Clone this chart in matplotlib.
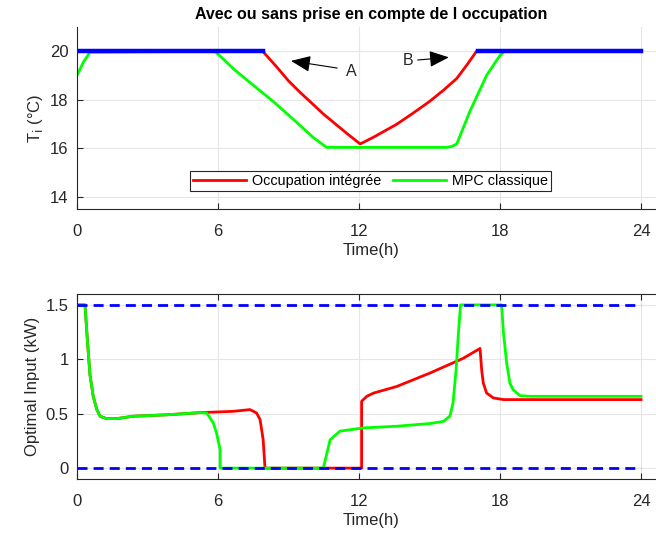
import matplotlib
matplotlib.use('Agg')
import matplotlib.pyplot as plt

plt.rcParams['font.family'] = ['Liberation Sans', 'DejaVu Sans']

# --- temperature (top) ---
t_red = [0, 7.9, 8.5, 9.0, 9.5, 10.0, 10.5, 11.0, 11.5, 12.05,
         12.6, 13.6, 14.3, 15.0, 15.6, 16.16, 16.6, 17.0, 24]
T_red = [20, 20, 19.35, 18.78, 18.3, 17.85, 17.4, 17.0, 16.6, 16.18,
         16.45, 16.99, 17.45, 17.93, 18.4, 18.88, 19.45, 20, 20]

t_green = [0, 0.27, 0.55, 5.87, 6.2, 6.65, 7.5, 8.35, 9.2, 10.06, 10.62, 15.73,
           15.95, 16.16, 16.72, 17.43, 18.0, 18.2, 24]
T_green = [19.0, 19.55, 19.96, 20, 19.7, 19.28, 18.6, 17.93, 17.2, 16.44, 16.04, 16.04,
           16.08, 16.18, 17.53, 19.01, 19.83, 20, 20]

t_comf1 = [0, 7.9]
t_comf2 = [17.05, 24]
T_comf = [20, 20]

# --- optimal input (bottom) ---
t_u_green = [0, 0.34, 0.43, 0.55, 0.69, 0.84, 0.98, 1.26, 1.69, 2.39, 3.81, 5.23,
             5.52, 5.80, 5.94, 6.09, 6.09, 10.48, 10.77, 11.19, 12.19, 13.6, 15.02,
             15.6, 15.87, 16.0, 16.13, 16.22, 16.32, 18.07, 18.14, 18.28, 18.42,
             18.56, 18.85, 19.28, 24]
u_green = [1.5, 1.5, 1.21, 0.86, 0.66, 0.54, 0.477, 0.455, 0.455, 0.477, 0.49, 0.51,
           0.507, 0.415, 0.32, 0.17, 0, 0, 0.26, 0.34, 0.37, 0.385, 0.41,
           0.43, 0.48, 0.6, 0.9, 1.21, 1.5, 1.5, 1.26, 0.97, 0.78,
           0.72, 0.666, 0.66, 0.66]

t_u_red = [0, 0.34, 0.43, 0.55, 0.69, 0.84, 0.98, 1.26, 1.69, 2.39, 3.81, 5.23,
           6.65, 7.36, 7.64, 7.79, 7.92, 8.0, 12.11, 12.11, 12.33, 12.62, 13.6,
           15.02, 16.44, 17.15, 17.22, 17.29, 17.43, 17.72, 18.14, 24]
u_red = [1.5, 1.5, 1.21, 0.86, 0.66, 0.54, 0.477, 0.455, 0.455, 0.477, 0.49, 0.51,
         0.522, 0.538, 0.507, 0.446, 0.263, 0, 0, 0.614, 0.66, 0.69, 0.75,
         0.874, 1.01, 1.10, 0.90, 0.78, 0.69, 0.645, 0.63, 0.63]

u_bounds = [0, 1.5]
t_bounds = [0, 24]

xticks = [0, 6, 12, 18, 24]
txt = '#262626'

fig = plt.figure(figsize=(6.56, 5.42), dpi=100)

ax1 = fig.add_axes([0.1174, 0.6144, 0.8956, 0.3358])
ax1.plot(t_red, T_red, color='#ff0000', lw=2, label='Occupation intégrée')
ax1.plot(t_green, T_green, color='#00ff00', lw=2, label='MPC classique')
ax1.plot(t_comf1, T_comf, color='#0000ff', lw=3.2)
ax1.plot(t_comf2, T_comf, color='#0000ff', lw=3.2)
ax1.set_xlim(0, 25)
ax1.set_ylim(13.5, 21)
ax1.set_xticks(xticks)
ax1.set_yticks([14, 16, 18, 20])
ax1.set_xlabel('Time(h)', fontsize=12, color=txt, labelpad=3)
ax1.set_ylabel('T$_{\\mathrm{i}}$ (°C)', fontsize=12, color=txt)
ax1.set_title('Avec ou sans prise en compte de l occupation', fontsize=11.5,
              fontweight='bold', pad=6)
ax1.spines['top'].set_visible(False)
ax1.spines['right'].set_visible(False)
ax1.annotate('', xy=(8.99, 19.62), xytext=(11.19, 19.29),
             arrowprops=dict(arrowstyle='-|>,head_length=0.6,head_width=0.25',
                             color='black', lw=0.8, mutation_scale=20))
ax1.text(11.69, 19.15, 'A', fontsize=11.5, color=txt, ha='center', va='center')
ax1.text(14.1, 19.62, 'B', fontsize=11.5, color=txt, ha='center', va='center')
ax1.annotate('', xy=(15.94, 19.76), xytext=(14.38, 19.63),
             arrowprops=dict(arrowstyle='-|>,head_length=0.6,head_width=0.25',
                             color='black', lw=0.8, mutation_scale=20))
leg = ax1.legend(loc='lower left', bbox_to_anchor=(0.192, 0.098), ncol=2,
                 fontsize=10.4, handlelength=3.7, columnspacing=0.8,
                 handletextpad=0.4, borderpad=0.2, fancybox=False,
                 framealpha=1, edgecolor='#262626', borderaxespad=0)
leg.get_frame().set_linewidth(0.8)

ax2 = fig.add_axes([0.1174, 0.1162, 0.8956, 0.3413])
ax2.plot(t_u_red, u_red, color='#ff0000', lw=2)
ax2.plot(t_u_green, u_green, color='#00ff00', lw=2)
for b in u_bounds:
    ax2.plot(t_bounds, [b, b], color='#0000ff', lw=2, ls=(0, (3.6, 2.2)))
ax2.set_xlim(0, 25)
ax2.set_ylim(-0.1, 1.6)
ax2.set_xticks(xticks)
ax2.set_yticks([0, 0.5, 1, 1.5])
ax2.set_yticklabels(['0', '0.5', '1', '1.5'])
ax2.set_xlabel('Time(h)', fontsize=12, color=txt, labelpad=3)
ax2.set_ylabel('Optimal Input (kW)', fontsize=12, color=txt)
ax2.spines['right'].set_visible(False)

for ax in (ax1, ax2):
    ax.grid(True, color='#e6e6e6', lw=0.8)
    ax.set_axisbelow(True)
    ax.tick_params(direction='in', length=4, labelsize=12, colors=txt,
                   top=(ax is ax2), width=0.8, pad=6)
    ax.tick_params(axis='x', pad=11)
    for s in ax.spines.values():
        s.set_color('#262626')
        s.set_linewidth(0.8)

fig.savefig('out.png', dpi=100)
